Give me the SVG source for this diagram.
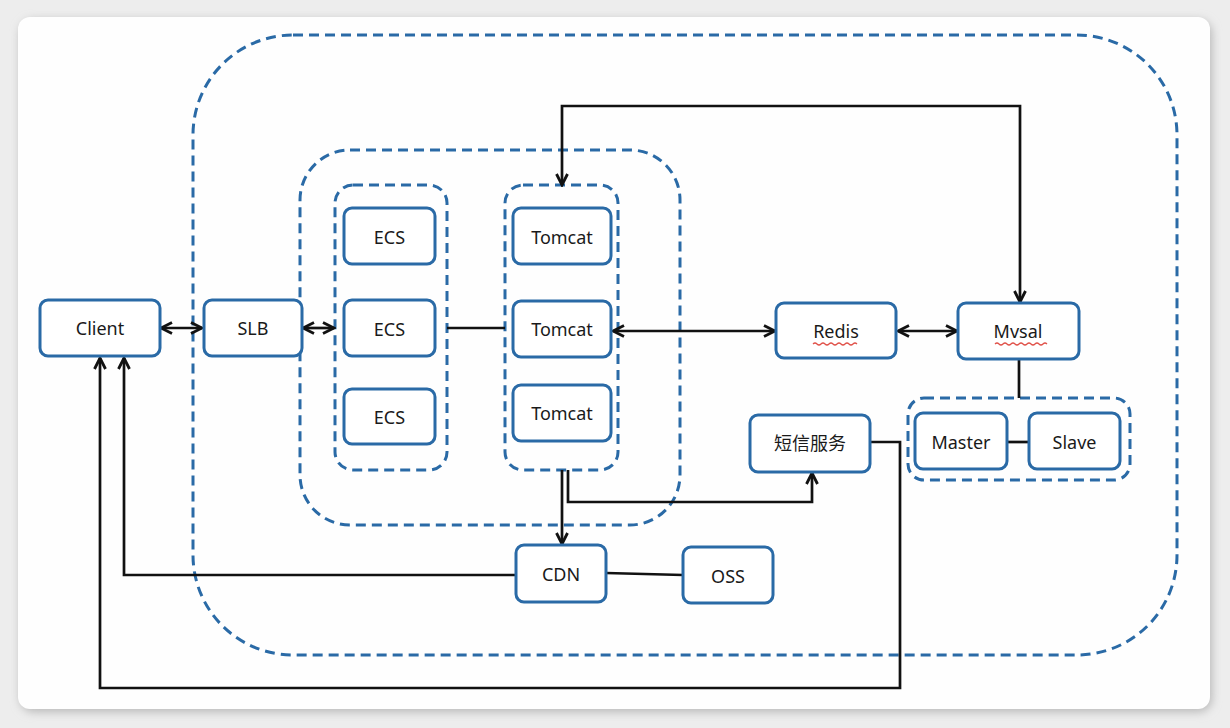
<svg xmlns="http://www.w3.org/2000/svg" width="1230" height="728" viewBox="0 0 1230 728">
<defs>
<filter id="sh" x="-5%" y="-5%" width="110%" height="110%"><feGaussianBlur stdDeviation="5"/></filter>
<marker id="ar" viewBox="0 0 14 14" refX="12.5" refY="7" markerWidth="14" markerHeight="14" markerUnits="userSpaceOnUse" orient="auto-start-reverse">
<path d="M1.5,1.5 L12.5,7 L1.5,12.5" fill="none" stroke="#111" stroke-width="2.8" stroke-linejoin="miter"/>
</marker>
</defs>
<style>
.node rect{fill:#fff;stroke:#2a6aa6;stroke-width:3}
.grp{fill:none;stroke:#2a6aa6;stroke-width:3;stroke-dasharray:10 6}
text{font-family:"Noto Sans","Noto Sans CJK SC",sans-serif;font-size:18px;fill:#1a1a1a;text-anchor:middle;dominant-baseline:central}
.c path{fill:none;stroke:#111;stroke-width:2.7}
.sq{fill:none;stroke:#e0524a;stroke-width:1.2}
</style>
<rect width="1230" height="728" fill="#ededed"/>
<rect x="20" y="20" width="1192" height="692" rx="14" fill="#b8b8b8" filter="url(#sh)"/>
<rect x="18" y="17" width="1192" height="692" rx="12" fill="#fefefe"/>

<g id="groups">
<rect class="grp" x="193" y="35" width="984" height="620" rx="100"/>
<rect class="grp" x="300" y="150" width="380" height="375" rx="50"/>
<rect class="grp" x="335" y="185" width="112" height="285" rx="18"/>
<rect class="grp" x="505" y="185" width="113" height="285" rx="18"/>
<rect class="grp" x="908" y="398" width="222" height="82" rx="16"/>
</g>

<g class="c" id="connectors">
<path d="M161,328 H202" marker-start="url(#ar)" marker-end="url(#ar)"/>
<path d="M303,328 H334" marker-start="url(#ar)" marker-end="url(#ar)"/>
<path d="M447,328 H505"/>
<path d="M613,331 H775" marker-start="url(#ar)" marker-end="url(#ar)"/>
<path d="M898,331 H957" marker-start="url(#ar)" marker-end="url(#ar)"/>
<path d="M562,185 V106 H1020 V302" marker-start="url(#ar)" marker-end="url(#ar)"/>
<path d="M562,470 V544" marker-end="url(#ar)"/>
<path d="M568,470 V502 H812 V473" marker-end="url(#ar)"/>
<path d="M871,442 H900 V688 H100 V358" marker-end="url(#ar)"/>
<path d="M516,575 H124 V358" marker-end="url(#ar)"/>
<path d="M606,573 L683,575"/>
<path d="M1019,359 V398"/>
<path d="M1007,442 H1029"/>
</g>

<g id="client" class="node"><rect x="40" y="300" width="120" height="56" rx="8"/><text x="100" y="328">Client</text></g>
<g id="slb" class="node"><rect x="204" y="300" width="98" height="56" rx="8"/><text x="253" y="328">SLB</text></g>
<g id="ecs1" class="node"><rect x="344" y="208" width="91" height="56" rx="8"/><text x="389.5" y="237">ECS</text></g>
<g id="ecs2" class="node"><rect x="344" y="300" width="91" height="56" rx="8"/><text x="389.5" y="329">ECS</text></g>
<g id="ecs3" class="node"><rect x="344" y="389" width="91" height="55" rx="8"/><text x="389.5" y="417">ECS</text></g>
<g id="tomcat1" class="node"><rect x="513" y="208" width="98" height="56" rx="8"/><text x="562" y="237">Tomcat</text></g>
<g id="tomcat2" class="node"><rect x="513" y="301" width="98" height="56" rx="8"/><text x="562" y="329">Tomcat</text></g>
<g id="tomcat3" class="node"><rect x="513" y="385" width="98" height="56" rx="8"/><text x="562" y="413">Tomcat</text></g>
<g id="redis" class="node"><rect x="776" y="303" width="120" height="55" rx="8"/><text x="836" y="331">Redis</text>
<path class="sq" d="M813,344 q2,-2 4,0 t4,0 t4,0 t4,0 t4,0 t4,0 t4,0 t4,0 t4,0 t4,0 t4,0"/></g>
<g id="mysql" class="node"><rect x="958" y="303" width="121" height="56" rx="8"/><text x="1018" y="331">Mvsal</text>
<path class="sq" d="M995,344 q2,-2 4,0 t4,0 t4,0 t4,0 t4,0 t4,0 t4,0 t4,0 t4,0 t4,0 t4,0 t4,0 t4,0"/></g>
<g id="master" class="node"><rect x="915" y="413" width="92" height="56" rx="8"/><text x="961" y="442">Master</text></g>
<g id="slave" class="node"><rect x="1029" y="413" width="91" height="56" rx="8"/><text x="1074.5" y="442">Slave</text></g>
<g id="sms" class="node"><rect x="750" y="415" width="120" height="57" rx="8"/><text x="810" y="443">短信服务</text></g>
<g id="cdn" class="node"><rect x="516" y="545" width="90" height="57" rx="8"/><text x="561" y="574">CDN</text></g>
<g id="oss" class="node"><rect x="683" y="547" width="90" height="56" rx="8"/><text x="728" y="576">OSS</text></g>
</svg>
